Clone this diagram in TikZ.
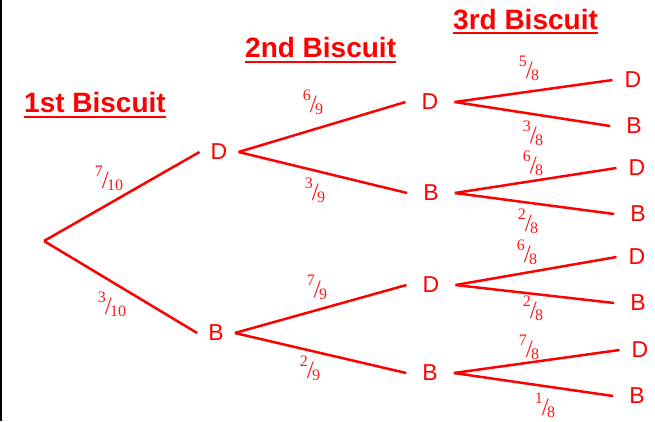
\documentclass[tikz,border=0pt]{standalone}
\usepackage{fontspec}
\setmainfont{Liberation Sans}
\newfontfamily\frfont{Liberation Serif}
\begin{document}
\begin{tikzpicture}[x=1pt,y=-1pt,
  branch/.style={draw=red,line width=2.5pt},
  lett/.style={text=red,font=\fontsize{23}{23}\selectfont,inner xsep=16pt,inner ysep=0pt},
  lettA/.style={lett,inner xsep=11pt},
  ttl/.style={text=red,font=\fontsize{28}{28}\selectfont\bfseries,anchor=base west,inner sep=0pt},
  uline/.style={draw=red,line width=2.8pt},
  frc/.style={text=red!90!white,font=\frfont,inner sep=0pt}
]
\useasboundingbox (0,0) rectangle (655,421);
\fill[white] (0,0) rectangle (655,421);
\fill[black] (0,0) rectangle (1.5,421);
\newcommand\fr[2]{\raisebox{12pt}{\fontsize{16}{16}\selectfont#1}\kern-1pt{\fontsize{25}{25}\selectfont/}\kern-1.5pt\raisebox{-2pt}{\fontsize{16}{16}\selectfont#2}}

% titles
\node[ttl] (t1) at (24,112) {1st Biscuit};
\node[ttl] (t2) at (245,57) {2nd Biscuit};
\node[ttl] (t3) at (453,29) {3rd Biscuit};
\draw[uline] ([yshift=-5pt]t1.base west) -- ([yshift=-5pt]t1.base east);
\draw[uline] ([yshift=-5pt]t2.base west) -- ([yshift=-5pt]t2.base east);
\draw[uline] ([yshift=-4pt]t3.base west) -- ([yshift=-4pt]t3.base east);

% root
\coordinate (r) at (44,241);
% level 1
\node[lettA] (d) at (219,152) {D};
\node[lettA] (b) at (216,333) {B};
% level 2
\node[lett] (dd) at (430,102) {D};
\node[lett] (db) at (431,193) {B};
\node[lett] (bd) at (431,285) {D};
\node[lett] (bb) at (430,373) {B};
% level 3
\node[lett,inner xsep=12pt] (ddd) at (633,80) {D};
\node[lett] (ddb) at (634,126) {B};
\node[lett,inner xsep=12pt] (dbd) at (637,168) {D};
\node[lett] (dbb) at (638,214) {B};
\node[lett,inner xsep=12pt] (bdd) at (637,257) {D};
\node[lett] (bdb) at (638,303) {B};
\node[lett,inner xsep=12pt] (bbd) at (640,350) {D};
\node[lett] (bbb) at (637,396) {B};

% branches
\draw[branch] (r) -- (d.west);
\draw[branch] (r) -- (b.west);
\draw[branch] (d.east) -- (dd.west);
\draw[branch] (d.east) -- (db.west);
\draw[branch] (b.east) -- (bd.west);
\draw[branch] (b.east) -- (bb.west);
\draw[branch] (dd.east) -- (ddd.west);
\draw[branch] (dd.east) -- (ddb.west);
\draw[branch] (db.east) -- (dbd.west);
\draw[branch] (db.east) -- (dbb.west);
\draw[branch] (bd.east) -- (bdd.west);
\draw[branch] (bd.east) -- (bdb.west);
\draw[branch] (bb.east) -- (bbd.west);
\draw[branch] (bb.east) -- (bbb.west);

% probabilities
\node[frc] (p1) at (109,178) {\fr{7}{10}};
\node[frc] (p2) at (112,304) {\fr{3}{10}};
\node[frc] (p3) at (313,102) {\fr{6}{9}};
\node[frc] (p4) at (315,190) {\fr{3}{9}};
\node[frc] (p5) at (317,287) {\fr{7}{9}};
\node[frc] (p6) at (310,368) {\fr{2}{9}};
\node[frc] (p7) at (529,68) {\fr{5}{8}};
\node[frc] (p8) at (533,133) {\fr{3}{8}};
\node[frc] (p9) at (533,163) {\fr{6}{8}};
\node[frc] (p10) at (528,221) {\fr{2}{8}};
\node[frc] (p11) at (527,252) {\fr{6}{8}};
\node[frc] (p12) at (533,308) {\fr{2}{8}};
\node[frc] (p13) at (529,347) {\fr{7}{8}};
\node[frc] (p14) at (545,405) {\fr{1}{8}};
\end{tikzpicture}
\end{document}
